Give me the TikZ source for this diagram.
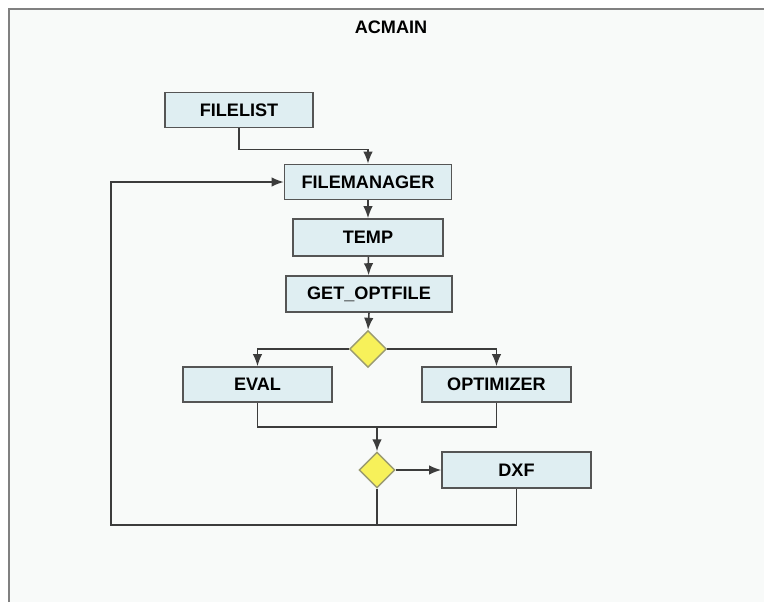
\documentclass[tikz,border=0pt]{standalone}
\usepackage{fontspec}
\setmainfont{Liberation Sans}
\usetikzlibrary{arrows.meta,shapes,positioning,calc}
\definecolor{boxfill}{HTML}{DFEEF2}
\definecolor{boxline}{HTML}{555555}
\definecolor{decfill}{HTML}{F7F15A}
\definecolor{decline}{HTML}{9A9A70}
\definecolor{paper}{HTML}{F8FAF9}
\definecolor{wire}{HTML}{3C3C3C}
\begin{document}
\begin{tikzpicture}
[x=0.02cm,y=-0.02cm,
font=\fontsize{10.3}{12}\selectfont\bfseries,
module/.style={shape=rectangle,draw=boxline,fill=boxfill,line width=0.9pt,inner sep=0pt,minimum height=0.7cm},
decision/.style={shape=diamond,draw=decline,fill=decfill,line width=0.8pt,inner sep=0pt,minimum width=0.74cm,minimum height=0.74cm},
wire/.style={draw=wire,line width=0.9pt},
flow/.style={wire,->,>={Latex[length=2.4mm,width=1.9mm]}}]

\useasboundingbox (0,0) rectangle (764,602);
\fill[paper] (9,9) rectangle (764,602);
\draw[color=gray,line width=1.6pt] (9,602) -- (9,9) -- (764,9);
\node (title) at (391,27) {ACMAIN};

\node (filelist) [module,minimum width=2.96cm] at (239,110) {FILELIST};
\node (filemanager) [module,minimum width=3.34cm] at (368,182) {FILEMANAGER};
\node (temp) [module,minimum width=3cm,minimum height=0.74cm] at (368,237.5) {TEMP};
\node (getopt) [module,minimum width=3.32cm,minimum height=0.72cm] at (369,294) {GET\_OPTFILE};
\node (d1) [decision] at (368,349) {};
\node (eval) [module,minimum width=2.98cm] at (257.5,384.5) {EVAL};
\node (optimizer) [module,minimum width=2.98cm] at (496.5,384.5) {OPTIMIZER};
\node (d2) [decision,minimum width=0.72cm,minimum height=0.72cm] at (377,470) {};
\node (dxf) [module,minimum width=2.98cm,minimum height=0.72cm] at (516.5,470) {DXF};
\coordinate (join) at (377,427);
\coordinate (back) at (111,525);

\draw[flow] (filelist.south) -- ++(0,21) -| (filemanager.north);
\draw[flow] (filemanager) -- (temp);
\draw[flow] (temp) -- (getopt);
\draw[flow] (getopt.south) -- (d1.north);
\draw[flow] (d1.west) -| (eval.north);
\draw[flow] (d1.east) -| (optimizer.north);
\draw[wire] (eval.south) |- (join) -| (optimizer.south);
\draw[flow] (join) -- (d2.north);
\draw[flow] (d2.east) -- (dxf.west);
\draw[wire] (d2.south) -- (d2.south |- back);
\draw[flow] (dxf.south) |- (back) |- (filemanager.west);

\end{tikzpicture}
\end{document}
